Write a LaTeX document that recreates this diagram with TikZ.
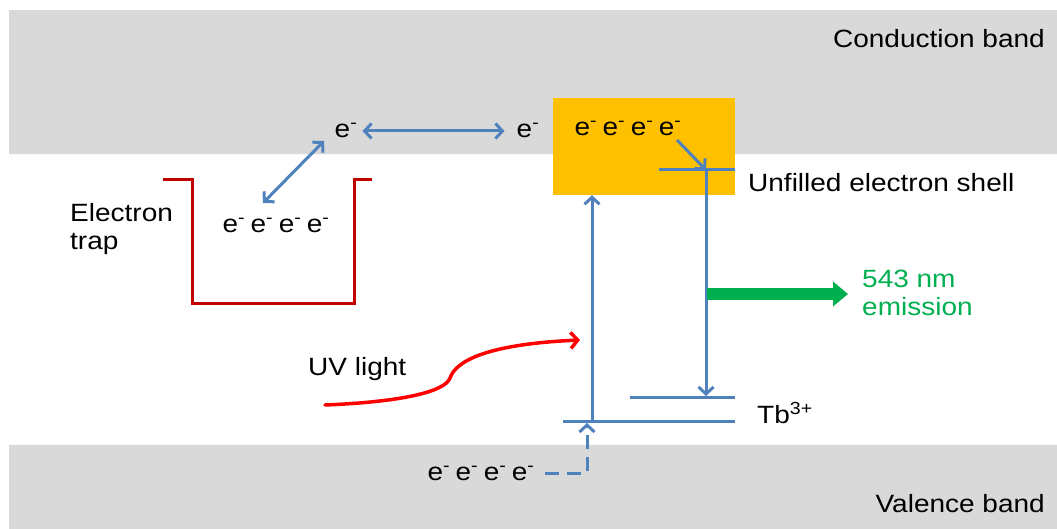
\documentclass[tikz,border=0pt]{standalone}
\usepackage{fontspec}
\setmainfont{Liberation Sans}[FakeStretch=1.12]
\usetikzlibrary{arrows.meta}
\definecolor{bandgray}{HTML}{D9D9D9}
\definecolor{lineblue}{HTML}{4F81BD}
\definecolor{shellorange}{HTML}{FFC000}
\definecolor{trapred}{HTML}{C00000}
\definecolor{uvred}{HTML}{FF0000}
\definecolor{emgreen}{HTML}{00B050}
\newcommand\el{e\textsuperscript{-}}
\newcommand\elgroup{\el\hspace{5.5pt}\el\hspace{5.5pt}\el\hspace{5.5pt}\el}
\tikzset{
  txt/.style={inner sep=0pt, font=\fontsize{25}{28}\selectfont, text=black},
  band/.style={fill=bandgray, draw=none},
  level/.style={draw=lineblue, line width=3pt},
  barrow/.style={draw=lineblue, line width=3pt, -{Straight Barb[length=7pt,width=15pt]}},
  bdarrow/.style={draw=lineblue, line width=3pt, {Straight Barb[length=7pt,width=15pt]}-{Straight Barb[length=7pt,width=15pt]}},
  trapline/.style={draw=trapred, line width=3pt},
}
\begin{document}
\begin{tikzpicture}[x=1pt,y=-1pt]
\useasboundingbox (0,0) rectangle (1057,529);
% bands
\fill[band] (9,10) rectangle (1057,154);
\fill[band] (9,445) rectangle (1057,529);
\draw[white!80!bandgray, line width=1.5pt] (9,154.5) -- (1057,154.5);
\draw[white!80!bandgray, line width=1.5pt] (9,444.5) -- (1057,444.5);
\node[txt, anchor=east] (cb) at (1045,39) {Conduction band};
\node[txt, anchor=east] (vb) at (1045,504) {Valence band};
% shell box
\node[fill=shellorange, draw=none, minimum width=182pt, minimum height=97pt, inner sep=0pt] (shell) at (644,146.5) {};
\node[txt] (eBox) at (628,128) {\elgroup};
% conduction electrons
\node[txt] (eA) at (346,130) {\el};
\node[txt] (eB) at (528,130) {\el};
\path (eA.east) ++(5,1) coordinate (hA) (eB.west) ++(-12,1) coordinate (hB);
\draw[bdarrow] (hA) -- (hB);
% trap
\coordinate (t1) at (163,180);
\coordinate (t2) at (192,180);
\coordinate (t3) at (192,303);
\coordinate (t4) at (354,303);
\coordinate (t5) at (354,180);
\coordinate (t6) at (372,180);
\draw[trapline] (t1) -- (t2) -- (t3) -- (t4) -- (t5) -- (t6);
\node[txt] (eTrap) at (276,225) {\elgroup};
\coordinate (dA) at (324,141);
\coordinate (dB) at (263,203);
\draw[bdarrow] (dA) -- (dB);
\node[txt, anchor=west, align=left] (trapl) at (70,229) {Electron\\trap};
% levels
\coordinate (u1) at (659,170);
\coordinate (u2) at (735,170);
\draw[level] (u1) -- (u2);
\coordinate (tu1) at (630,397);
\coordinate (tu2) at (735,397);
\draw[level] (tu1) -- (tu2);
\coordinate (tl1) at (563,421);
\coordinate (tl2) at (735,421);
\draw[level] (tl1) -- (tl2);
\coordinate (dn) at (706,170);
\coordinate (dnEnd) at (706,396);
\coordinate (inS) at (677,140);
\draw[barrow] (inS) -- (dn);
\draw[barrow] (dn) -- (dnEnd);
\coordinate (upS) at (592,421);
\draw[barrow] (upS) -- (shell.south -| upS);
% valence electrons
\node[txt] (eVal) at (481,473) {\elgroup};
\coordinate (vUp) at (587,423);
\draw[barrow, dash pattern=on 14pt off 8pt] ([xshift=10pt]eVal.east) -| (vUp);
% labels
\node[txt, anchor=west] (unf) at (748,183) {Unfilled electron shell};
\node[txt, anchor=west] (tb) at (757,413) {Tb\textsuperscript{3+}};
% emission
\coordinate (gS) at (707,294);
\coordinate (gE) at (848,294);
\draw[emgreen, line width=11pt, -{Triangle[length=15pt,width=24pt]}] (gS) -- (gE);
\node[txt, anchor=west, align=left, text=emgreen] (em) at (862,293) {543 nm\\emission};
% UV light
\coordinate (uvS) at (325,405);
\coordinate (uvE) at (580,340);
\draw[uvred, line width=3.5pt, line cap=round, -{Straight Barb[length=7pt,width=16pt]}] (uvS) .. controls (400,402) and (445,392) .. (450,378) .. controls (456,360) and (490,344) .. (uvE);
\node[txt, anchor=west] (uv) at (308,369) {UV light};
\end{tikzpicture}
\end{document}
